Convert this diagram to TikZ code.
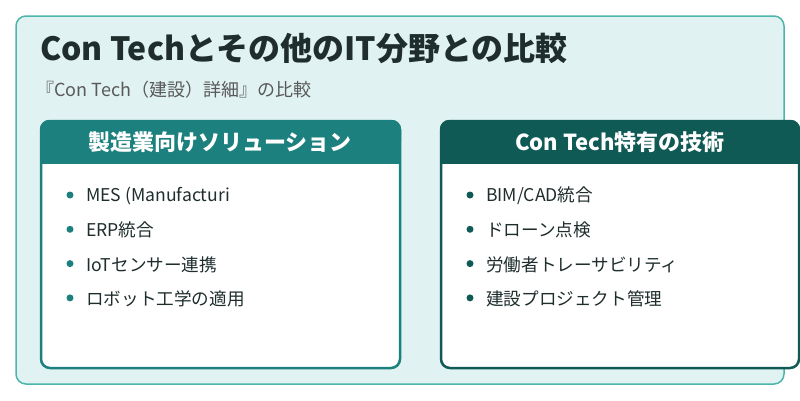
\documentclass[tikz,border=0pt]{standalone}
\usepackage{fontspec}
\setmainfont{Noto Sans CJK JP}
\definecolor{bgc}{HTML}{E0F2F1}
\definecolor{obord}{HTML}{4DB6AC}
\definecolor{tealA}{HTML}{1B807E}
\definecolor{tealB}{HTML}{105A56}
\definecolor{txt}{HTML}{1F2D2D}
\begin{document}
\begin{tikzpicture}[x=1pt,y=-1pt,
 card/.style={draw=#1,line width=2.5pt,fill=white,rounded corners=9pt},
 hdr/.style={font=\fontsize{22}{26}\selectfont\bfseries,text=white},
 item/.style={anchor=west,font=\fontsize{17.6}{20}\selectfont,text=txt,inner sep=0pt},
 dot/.style={circle,fill=#1,inner sep=0pt,minimum size=7pt}]
\useasboundingbox (0,0) rectangle (800,400);
\fill[white] (0,0) rectangle (800,400);
\draw[fill=bgc,draw=obord,line width=1.5pt,rounded corners=10pt] (16,16) rectangle (784,384);
\node[anchor=west,font=\fontsize{32}{36}\selectfont\bfseries,text=txt,inner sep=0pt] (title) at (40,48) {Con Techとその他のIT分野との比較};
\node[anchor=west,font=\fontsize{18}{21}\selectfont,text=black!65,inner sep=0pt] (sub) at (36,90) {『Con Tech（建設）詳細』の比較};
% left card
\draw[card=tealA] (41,121) rectangle (400,368);
\fill[tealA,rounded corners=9pt] (40,120) rectangle (401,150);
\fill[tealA] (40,140) rectangle (401,164);
\node[hdr] (lh) at (220,142) {製造業向けソリューション};
% right card
\draw[card=tealB] (441,121) rectangle (799,368);
\fill[tealB,rounded corners=9pt] (440,120) rectangle (800,150);
\fill[tealB] (440,140) rectangle (800,164);
\node[hdr] (rh) at (620,142) {Con Tech特有の技術};
\foreach \t [count=\i] in {MES (Manufacturi,ERP統合,IoTセンサー連携,ロボット工学の適用}{
  \node[dot=tealA] (ld\i) at (70,{195+34.3*(\i-1)}) {};
  \node[item] (lt\i) at (86,{196+34.3*(\i-1)}) {\t};}
\foreach \t [count=\i] in {BIM/CAD統合,ドローン点検,労働者トレーサビリティ,建設プロジェクト管理}{
  \node[dot=tealB] (rd\i) at (470,{195+34.3*(\i-1)}) {};
  \node[item] (rt\i) at (486,{196+34.3*(\i-1)}) {\t};}
\end{tikzpicture}
\end{document}
